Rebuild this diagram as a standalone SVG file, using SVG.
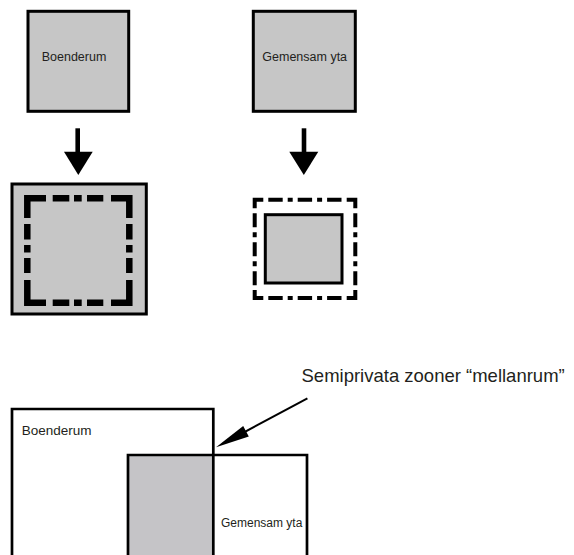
<svg xmlns="http://www.w3.org/2000/svg" width="574" height="555" viewBox="0 0 574 555">
<style>
.box{fill:#c6c6c6;stroke:#000;stroke-width:3}
.outline{fill:none;stroke:#000;stroke-width:2.7}
.lbl{font-family:"Liberation Sans",Arial,sans-serif;fill:#231f20}
.dd{fill:none;stroke:#000;stroke-linecap:butt;stroke-linejoin:miter}
.shaft{stroke:#000;stroke-width:4.6}
</style>
<rect width="574" height="555" fill="#fff"/>
<g id="boenderum-top">
<rect class="box" x="28" y="11.3" width="100.7" height="100"/>
<text class="lbl" x="41.7" y="60.7" font-size="12.5">Boenderum</text>
</g>
<g id="gemensam-top">
<rect class="box" x="253.3" y="11.3" width="102" height="100"/>
<text class="lbl" x="262.3" y="60.7" font-size="12.5">Gemensam yta</text>
</g>
<g id="boenderum-private">
<rect class="box" x="12" y="184" width="134.3" height="130" stroke-width="2.5"/>
<path class="dd" stroke-width="6.5" d="M27.3,218 V198.3 H46 M52.7,198.3 H69.3 M74,198.3 H81.7 M87,198.3 H103.3 M111,198.3 H129.3 V218 M129.3,224 V239.5 M129.3,245 V252.5 M129.3,258 V273 M129.3,280 V302.7 H111 M103.3,302.7 H87 M81.7,302.7 H74 M69.3,302.7 H52.7 M46,302.7 H27.3 V280 M27.3,273 V258 M27.3,252.5 V245 M27.3,239.5 V224"/>
</g>
<g id="gemensam-semi">
<path class="dd" stroke-width="4" d="M254.7,208.3 V199.7 H263.3 M268.3,199.7 H282.7 M287.7,199.7 H292.7 M297.7,199.7 H312.1 M317.1,199.7 H322.1 M327.1,199.7 H341.5 M346.7,199.7 H355.3 V208.3 M355.3,213.3 V227.3 M355.3,232.3 V237.3 M355.3,242.3 V256.3 M355.3,261.3 V266.3 M355.3,271.3 V285.3 M355.3,290 V298 H346.7 M341.5,298 H327.1 M322.1,298 H317.1 M312.1,298 H297.7 M292.7,298 H287.7 M282.7,298 H268.3 M263.3,298 H254.7 V290 M254.7,285.3 V271.3 M254.7,266.3 V261.3 M254.7,256.3 V242.3 M254.7,237.3 V232.3 M254.7,227.3 V213.3"/>
<rect class="box" x="265.3" y="214.7" width="76.7" height="68.3" stroke-width="2.7"/>
</g>
<g id="overlap">
<rect x="128" y="455" width="85.3" height="110" fill="#c5c4c7"/>
</g>
<g id="boenderum-bottom">
<path class="outline" d="M12,565 V409 H213.3 V565"/>
<text class="lbl" x="21.7" y="434.5" font-size="13.5">Boenderum</text>
</g>
<g id="gemensam-bottom">
<path class="outline" d="M128,565 V455 H307 V565"/>
<text class="lbl" x="221" y="527" font-size="12">Gemensam yta</text>
</g>
<g id="label-semi">
<text class="lbl" x="301.5" y="381.5" font-size="18.5">Semiprivata zooner “mellanrum”</text>
</g>
<g id="connectors">
<line class="shaft" x1="77.7" y1="128.3" x2="77.7" y2="153"/>
<polygon points="64,151.7 92.7,151.7 78.3,175" fill="#000"/>
<line class="shaft" x1="304" y1="128.3" x2="304" y2="153"/>
<polygon points="289.3,151.7 318.3,151.7 303.8,175" fill="#000"/>
<line x1="307.4" y1="398.3" x2="240" y2="434.5" stroke="#000" stroke-width="2"/>
<polygon points="216,447.3 243.2,425.9 248.8,436.5" fill="#000"/>
</g>
</svg>
